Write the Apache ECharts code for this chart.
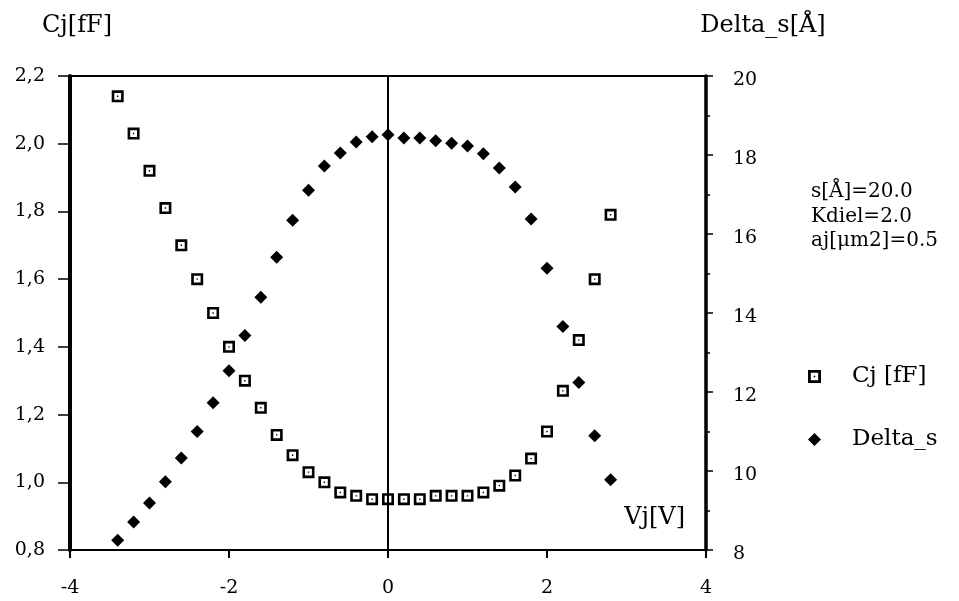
<!DOCTYPE html>
<html>
<head>
<meta charset="utf-8">
<title>Cj and Delta_s versus Vj</title>
<script src="https://cdn.jsdelivr.net/npm/echarts@6/dist/echarts.min.js"></script>
<style>
  html, body { margin: 0; padding: 0; background: #fff; }
  #chart { width: 959px; height: 601px; }
</style>
</head>
<body>
<div id="chart"></div>
<script>
// Junction voltage sweep (V)
const vj = [-3.4, -3.2, -3.0, -2.8, -2.6, -2.4, -2.2, -2.0, -1.8, -1.6, -1.4, -1.2, -1.0, -0.8, -0.6, -0.4, -0.2,
            0.0, 0.2, 0.4, 0.6, 0.8, 1.0, 1.2, 1.4, 1.6, 1.8, 2.0, 2.2, 2.4, 2.6, 2.8];

// Junction capacitance Cj (fF)
const cj = [2.14, 2.03, 1.92, 1.81, 1.70, 1.60, 1.50, 1.40, 1.30, 1.22, 1.14, 1.08, 1.03, 1.00, 0.97, 0.96, 0.95,
            0.95, 0.95, 0.95, 0.96, 0.96, 0.96, 0.97, 0.99, 1.02, 1.07, 1.15, 1.27, 1.42, 1.60, 1.79];

// Gap width Delta_s (Å)
const deltaS = [8.25, 8.71, 9.19, 9.73, 10.33, 11.0, 11.73, 12.54, 13.43, 14.40, 15.41, 16.35, 17.11, 17.72, 18.05, 18.33, 18.46,
                18.51, 18.43, 18.43, 18.36, 18.30, 18.23, 18.03, 17.67, 17.19, 16.38, 15.13, 13.66, 12.24, 10.89, 9.78];

// Axis ticks
const xTicks = { min: -4, max: 4, step: 2 };
const cjTicks = { min: 0.8, max: 2.2, step: 0.2 };
const dsTicks = { min: 8, max: 20, step: 2 };

// Simulation parameters shown beside the plot
const params = ['s[Å]=20.0', 'Kdiel=2.0', 'aj[μm2]=0.5'];

const FONT = '"DejaVu Serif", "Liberation Serif", serif';
const BLACK = '#000';

// Hollow square with a small centre dot
const squareSymbol = 'path://M0,0H12V12H0Z M2.6,9.4H9.4V2.6H2.6Z M5.3,5.3H6.7V6.7H5.3Z';

const cjData = vj.map((v, i) => [v, cj[i]]);
const dsData = vj.map((v, i) => [v, deltaS[i]]);

const chart = echarts.init(document.getElementById('chart'), null, { renderer: 'canvas' });

chart.setOption({
  backgroundColor: '#fff',
  animation: false,
  textStyle: { fontFamily: FONT, color: BLACK },
  grid: { left: 70, right: 253, top: 76, bottom: 51, containLabel: false },
  legend: {
    orient: 'vertical',
    left: 803,
    top: 360,
    itemWidth: 13,
    itemHeight: 13,
    itemGap: 40,
    selectedMode: false,
    textStyle: { fontFamily: FONT, fontSize: 23, color: BLACK, padding: [0, 0, 0, 26] },
    data: [
      { name: 'Cj [fF]', icon: squareSymbol, itemStyle: { color: BLACK, opacity: 1 } },
      { name: 'Delta_s', icon: 'diamond', itemStyle: { color: BLACK, opacity: 1 } }
    ]
  },
  xAxis: [
    {
      type: 'value',
      position: 'bottom',
      min: xTicks.min,
      max: xTicks.max,
      interval: xTicks.step,
      axisLine: { show: true, onZero: false, lineStyle: { color: BLACK, width: 2 } },
      axisTick: { show: true, inside: false, length: 8, lineStyle: { color: BLACK, width: 2 } },
      axisLabel: {
        margin: 29, fontFamily: FONT, fontSize: 19, color: BLACK,
        formatter: v => String(v)
      },
      splitLine: { show: false }
    },
    {
      type: 'value',
      position: 'top',
      min: xTicks.min,
      max: xTicks.max,
      interval: xTicks.step,
      axisLine: { show: true, onZero: false, lineStyle: { color: BLACK, width: 2 } },
      axisTick: { show: false },
      axisLabel: { show: false },
      splitLine: { show: false }
    }
  ],
  yAxis: [
    {
      type: 'value',
      position: 'left',
      min: cjTicks.min,
      max: cjTicks.max,
      interval: cjTicks.step,
      name: 'Cj[fF]',
      nameLocation: 'end',
      nameGap: 38,
      nameTextStyle: { fontFamily: FONT, fontSize: 24, color: BLACK, align: 'center', padding: [0, 0, 0, 14] },
      axisLine: { show: true, onZero: false, lineStyle: { color: BLACK, width: 4 } },
      axisTick: { show: true, inside: false, length: 12, lineStyle: { color: BLACK, width: 1.5 } },
      axisLabel: {
        margin: 25, fontFamily: FONT, fontSize: 19, color: BLACK,
        formatter: v => v.toFixed(1).replace('.', ',')
      },
      splitLine: { show: false }
    },
    {
      type: 'value',
      position: 'right',
      min: dsTicks.min,
      max: dsTicks.max,
      interval: dsTicks.step,
      name: 'Delta_s[Å]',
      nameLocation: 'end',
      nameGap: 38,
      nameTextStyle: { fontFamily: FONT, fontSize: 24, color: BLACK, align: 'center', padding: [0, 0, 0, 114] },
      axisLine: { show: true, onZero: false, lineStyle: { color: BLACK, width: 3.5 } },
      axisTick: { show: true, inside: false, length: 7, lineStyle: { color: BLACK, width: 1.5 } },
      minorTick: { show: true, splitNumber: 2, length: 4, lineStyle: { color: BLACK, width: 1.5 } },
      axisLabel: {
        margin: 27, fontFamily: FONT, fontSize: 19, color: BLACK,
        verticalAlign: 'top', lineHeight: 8
      },
      splitLine: { show: false }
    }
  ],
  graphic: [
    {
      type: 'text',
      left: 811,
      top: 180,
      style: {
        text: params.join('\n'),
        font: '20px ' + FONT,
        fill: BLACK,
        lineHeight: 24.5
      }
    },
    {
      type: 'text',
      right: 274,
      top: 506,
      style: {
        text: 'Vj[V]',
        font: '24px ' + FONT,
        fill: BLACK
      }
    }
  ],
  series: [
    {
      name: 'Cj [fF]',
      type: 'scatter',
      xAxisIndex: 0,
      yAxisIndex: 0,
      symbol: squareSymbol,
      symbolSize: 12,
      itemStyle: { color: BLACK, opacity: 1 },
      data: cjData,
      z: 3,
      markLine: {
        silent: true,
        symbol: 'none',
        label: { show: false },
        lineStyle: { color: BLACK, width: 2, type: 'solid', opacity: 1 },
        data: [{ xAxis: 0 }],
        z: 1
      }
    },
    {
      name: 'Delta_s',
      type: 'scatter',
      xAxisIndex: 0,
      yAxisIndex: 1,
      symbol: 'diamond',
      symbolSize: [13, 13],
      itemStyle: { color: BLACK, opacity: 1 },
      data: dsData,
      z: 4
    }
  ]
});
</script>
</body>
</html>
